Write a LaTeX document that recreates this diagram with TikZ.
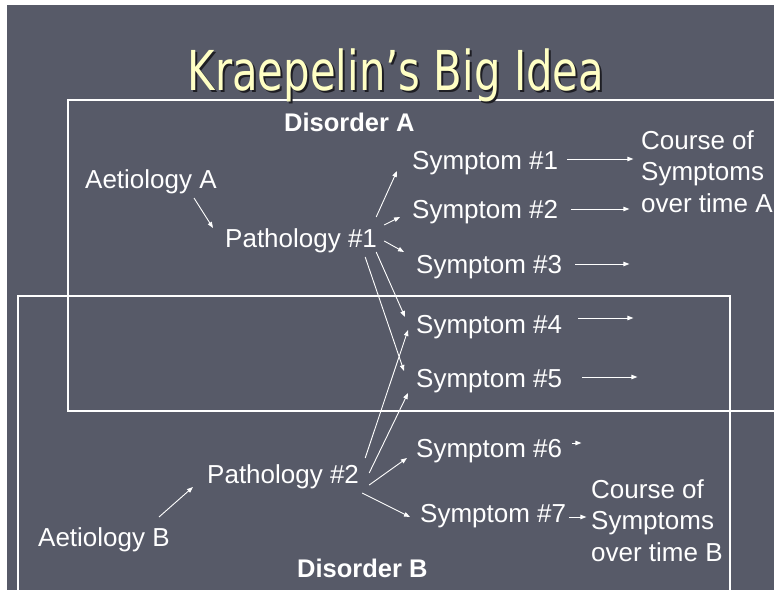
\documentclass[tikz,border=0pt]{standalone}
\usepackage{fontspec}
\usepackage{graphicx}
\setmainfont{Liberation Sans}
\newfontfamily\titlefont{DejaVu Sans}
\usetikzlibrary{arrows.meta,calc}
\definecolor{bg}{RGB}{87,90,104}
\definecolor{titleyellow}{RGB}{255,255,196}
\definecolor{shadowc}{RGB}{30,30,36}
\newcommand{\ttltext}{\scalebox{0.76}[1]{\titlefont\fontsize{55}{60}\selectfont Kraepelin’s Big Idea}}
\begin{document}
\begin{tikzpicture}[x=1pt,y=-1pt,
  lbl/.style={anchor=base west, inner sep=0pt, text=white, font=\fontsize{26}{31.3}\selectfont},
  hdr/.style={anchor=base west, inner sep=0pt, text=white, font=\fontsize{25.5}{30}\selectfont\bfseries},
  ttl/.style={anchor=base, inner sep=0pt},
  arr/.style={white, line width=0.9pt, -{Triangle[length=6pt,width=4.5pt]}},
  frame/.style={white, line width=2.6pt}]
\useasboundingbox (0,0) rectangle (774,590);
\fill[white] (0,0) rectangle (774,590);
\fill[bg] (7,5) rectangle (774,590);
\begin{scope}
\clip (7,5) rectangle (774,590);
\draw[frame] (68,100) rectangle (800,411);
\draw[frame] (18,296) rectangle (730,640);
\end{scope}
% title with its drop shadow
\node[ttl] (ttl) at (396,90) {\makebox[0pt][l]{\hspace{2pt}\raisebox{-2pt}{\color{shadowc}\ttltext}}\color{titleyellow}\ttltext};
% headers
\node[hdr] (dA) at (284,131) {Disorder A};
\node[hdr] (dB) at (297,577) {Disorder B};
% causes
\node[lbl] (aetA) at (85,188) {Aetiology A};
\node[lbl] (aetB) at (38,546) {Aetiology B};
\node[lbl] (path1) at (225,247) {Pathology \#1};
\node[lbl] (path2) at (207,483) {Pathology \#2};
% symptoms
\node[lbl] (s1) at (412,169) {Symptom \#1};
\node[lbl] (s2) at (412,218) {Symptom \#2};
\node[lbl] (s3) at (416,273) {Symptom \#3};
\node[lbl] (s4) at (416,333) {Symptom \#4};
\node[lbl] (s5) at (416,387) {Symptom \#5};
\node[lbl] (s6) at (416,457) {Symptom \#6};
\node[lbl] (s7) at (420,522) {Symptom \#7};
% courses (base = last line)
\node[lbl, align=left] (cA) at (641,212) {Course of\\Symptoms\\over time A};
\node[lbl, align=left] (cB) at (591,561) {Course of\\Symptoms\\over time B};
% arrows
\draw[arr] ($(aetA.base west)+(109,10)$) -- ($(path1.base west)+(-12,-19)$);
\draw[arr] ($(aetB.base west)+(121,-29)$) -- ($(path2.base west)+(-14,4)$);
\draw[arr] ($(path1.base east)+(-1,-30)$) -- ($(s1.base west)+(-15,2)$);
\draw[arr] ($(path1.base east)+(7,-22)$) -- ($(s2.base west)+(-12,-1)$);
\draw[arr] ($(path1.base east)+(7,-6)$) -- ($(s3.base west)+(-12,-21)$);
\draw[arr] ($(path1.base east)+(-1,5)$) -- ($(s4.base west)+(-11,-16)$);
\draw[arr] ($(path1.base east)+(-12,10)$) -- ($(s5.base west)+(-12,-16)$);
\draw[arr] ($(path2.base east)+(6,-25)$) -- ($(s4.base west)+(-8,-3)$);
\draw[arr] ($(path2.base east)+(10,-10)$) -- ($(s5.base west)+(-8,6)$);
\draw[arr] ($(path2.base east)+(10,2)$) -- ($(s6.base west)+(-9,1)$);
\draw[arr] ($(path2.base east)+(3,10)$) -- ($(s7.base west)+(-10,-5)$);
% course arrows
\draw[arr] ($(s1.base east)+(9,-10)$) -- ++(66,0);
\draw[arr] ($(s2.base east)+(13,-9)$) -- ++(58,0);
\draw[arr] ($(s3.base east)+(13,-9)$) -- ++(54,0);
\draw[arr] ($(s4.base east)+(16,-15)$) -- ++(55,0);
\draw[arr] ($(s5.base east)+(20,-10)$) -- ++(55,0);
\draw[arr] ($(s6.base east)+(10,-14)$) -- ++(9,0);
\draw[arr] ($(s7.base east)+(3,-5)$) -- ++(17,0);
\end{tikzpicture}
\end{document}
